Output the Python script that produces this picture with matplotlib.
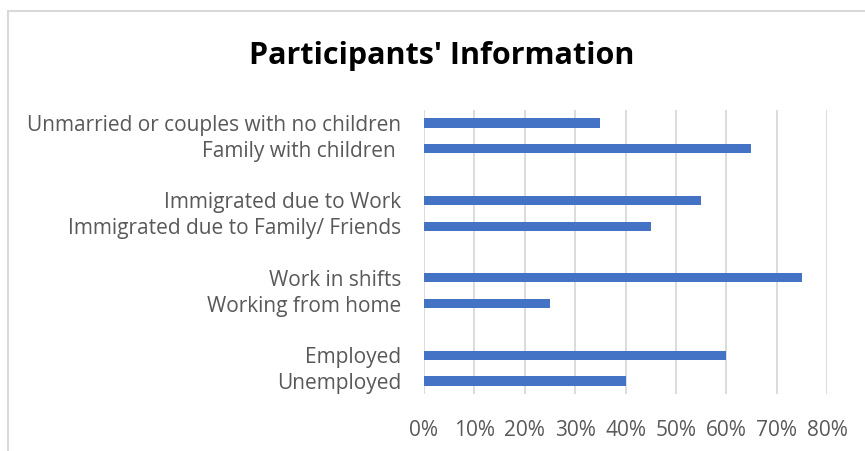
import matplotlib
matplotlib.use("Agg")
import matplotlib.pyplot as plt
from matplotlib.patches import Rectangle
from matplotlib.ticker import PercentFormatter

# data, top to bottom, one list per pair
group_labels = [
    ["Unmarried or couples with no children", "Family with children "],
    ["Immigrated due to Work", "Immigrated due to Family/ Friends"],
    ["Work in shifts", "Working from home"],
    ["Employed", "Unemployed"],
]
group_values = [
    [0.35, 0.65],
    [0.55, 0.45],
    [0.75, 0.25],
    [0.60, 0.40],
]
x_ticks = [0, 0.1, 0.2, 0.3, 0.4, 0.5, 0.6, 0.7, 0.8]

plt.rcParams['font.family'] = ['Open Sans', 'DejaVu Sans']

fig = plt.figure(figsize=(8.65, 4.51), dpi=100)
W, H = 865, 451
ax = fig.add_axes([424 / W, 1 - 394 / H, (827 - 424) / W, (394 - 110) / H])

# slot positions with an empty slot between groups
ypos, labels, values = [], [], []
slot = 0
for labs, vals in zip(group_labels, group_values):
    for l, v in zip(labs, vals):
        ypos.append(slot)
        labels.append(l)
        values.append(v)
        slot += 1
    slot += 1
n_slots = slot - 1

ax.barh(ypos, values, height=0.36, color='#4472C4', zorder=3)
ax.set_ylim(n_slots - 0.5, -0.5)
ax.set_xlim(0, 0.8)
ax.set_yticks(ypos)
ax.set_yticklabels(labels, fontsize=15, color='#595959')
ax.set_xticks(x_ticks)
ax.xaxis.set_major_formatter(PercentFormatter(1.0, decimals=0))
ax.tick_params(axis='x', labelsize=15, labelcolor='#595959', length=0, pad=18.5)
ax.tick_params(axis='y', length=0, pad=16.5)
ax.grid(axis='x', color='#d9d9d9', linewidth=1.3, zorder=0)
for s in ax.spines.values():
    s.set_visible(False)

fig.text(442 / W, 1 - 56 / H, "Participants' Information", ha='center', va='center',
         fontsize=22, fontweight='bold', color='black')

# chart border
fig.patches.append(Rectangle((8 / W, -0.1), 1.2, 1 - 11 / H + 0.1, transform=fig.transFigure,
                             fill=False, edgecolor='#d9d9d9', linewidth=1.5))

fig.savefig('out.png', dpi=100)
